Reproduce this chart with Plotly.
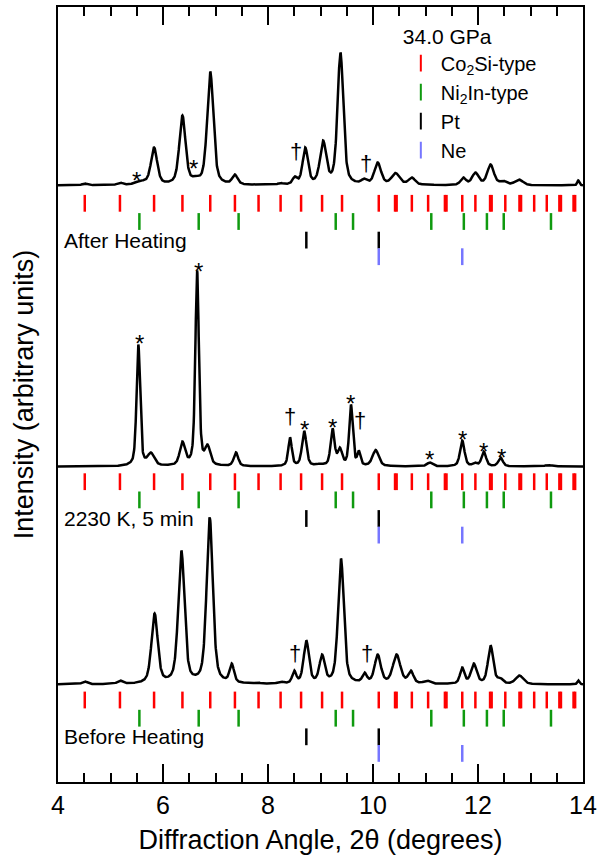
import numpy as np
import plotly.graph_objects as go

# 2-theta grid of the measured patterns (degrees)
two_theta = np.round(np.arange(4.0, 14.0001, 0.005), 4)

# ---- Peak tables: position (deg), height above background, FWHM (deg) ----
# Before heating
before_pos = [4.51, 5.18, 5.84, 6.35, 6.89, 7.31, 7.80, 8.24, 8.50, 8.73, 9.03, 9.39,
              9.84, 10.09, 10.45, 10.72, 11.03, 11.70, 11.92, 12.24, 12.42, 12.79, 13.91]
before_height = [3, 4, 71, 134, 167, 21, 2, 3, 14, 44, 30, 126,
                 12, 30, 30, 14, 4, 17, 21, 39, 7, 9, 4]
before_fwhm = [0.12, 0.12, 0.14, 0.14, 0.14, 0.10, 0.12, 0.12, 0.09, 0.12, 0.12, 0.13,
               0.10, 0.14, 0.17, 0.12, 0.15, 0.10, 0.13, 0.12, 0.12, 0.17, 0.05]

# 2230 K, 5 min
heated_pos = [5.53, 5.77, 6.37, 6.65, 6.85, 7.39, 8.42, 8.69, 8.99, 9.23, 9.37, 9.58,
              9.73, 10.05, 11.08, 11.70, 11.94, 12.11, 12.43, 13.34]
heated_height = [122, 14, 25, 196, 22, 14, 29, 35.5, 3, 38, 19, 62,
                 16, 16.5, 4, 26, 4, 15, 9, 1.5]
heated_fwhm = [0.08, 0.15, 0.12, 0.08, 0.12, 0.10, 0.08, 0.10, 0.15, 0.09, 0.10, 0.08,
               0.07, 0.14, 0.12, 0.10, 0.10, 0.10, 0.10, 0.15]

# After heating
after_pos = [4.51, 5.18, 5.58, 5.83, 6.37, 6.62, 6.90, 7.37, 7.82, 8.24, 8.51, 8.71,
             9.05, 9.38, 9.83, 10.09, 10.43, 10.74, 11.04, 11.72, 11.95, 12.24, 12.48,
             12.78, 13.91]
after_height = [2, 3, 5, 38, 70, 10, 114, 11, 1.5, 2.5, 9, 38,
                45, 133, 7, 23, 12.5, 8, 1.5, 8, 13, 21, 5,
                6, 5]
after_fwhm = [0.12, 0.12, 0.25, 0.14, 0.14, 0.15, 0.14, 0.12, 0.12, 0.12, 0.10, 0.12,
              0.14, 0.13, 0.12, 0.15, 0.18, 0.15, 0.15, 0.12, 0.15, 0.15, 0.15,
              0.18, 0.05]

# Background level of each stacked pattern
before_offset = 97.5
heated_offset = 315.5
after_offset = 596.5

# ---- Calculated reflection positions (deg) ----
co2si_type = [4.51, 5.18, 5.83, 6.37, 6.90, 7.37, 7.82, 8.24, 8.63, 9.03, 9.41, 10.11,
              10.42, 10.45, 10.74, 11.05, 11.37, 11.40, 11.70, 11.95, 12.23, 12.26,
              12.52, 12.79, 12.82, 13.07, 13.31, 13.55, 13.58, 13.82, 13.85]
ni2in_type = [5.55, 6.68, 7.44, 9.29, 9.62, 11.11, 11.73, 12.17, 12.49, 13.39]
pt_lines = [8.73, 10.11]
ne_lines = [10.11, 11.70]

# Peak annotations: (symbol, position, height above background)
before_marks = [("†", 8.52, 31.5), ("†", 9.88, 31)]
heated_marks = [("*", 5.56, 129), ("*", 6.67, 201.5), ("†", 8.41, 50.5), ("*", 8.69, 43),
                ("*", 9.22, 45), ("*", 9.57, 69), ("†", 9.76, 46.5), ("*", 11.08, 13),
                ("*", 11.70, 33), ("*", 12.11, 21.5), ("*", 12.45, 15)]
after_marks = [("*", 5.50, 11.5), ("*", 6.58, 23), ("†", 8.54, 34), ("†", 9.87, 22)]

ETA = 0.5


def pseudo_voigt(x, center, fwhm):
    u = ((np.asarray(x) - center) / fwhm) ** 2
    return ETA / (1 + 4 * u) + (1 - ETA) * np.exp(-4 * np.log(2) * u)


def pattern(pos, height, fwhm):
    pos = np.asarray(pos, float)
    fwhm = np.asarray(fwhm, float)
    # amplitudes chosen so the summed profile reaches each tabulated height
    m = np.array([[pseudo_voigt(p, c, w) for c, w in zip(pos, fwhm)] for p in pos])
    amp = np.clip(np.linalg.solve(m, np.asarray(height, float)), 0, None)
    return sum(a * pseudo_voigt(two_theta, c, w) for a, c, w in zip(amp, pos, fwhm))


fig = go.Figure()

for pos, h, w, off in [(before_pos, before_height, before_fwhm, before_offset),
                       (heated_pos, heated_height, heated_fwhm, heated_offset),
                       (after_pos, after_height, after_fwhm, after_offset)]:
    fig.add_trace(go.Scatter(x=two_theta, y=off + pattern(pos, h, w), mode="lines",
                             line=dict(color="black", width=2.5), showlegend=False,
                             hoverinfo="skip"))

# Reflection tick rows below each pattern
row_top = [82.0, 300.3, 578.7]
row_step = [0.0, 18.2, 36.8, 53.4]
phases = [("Co<sub>2</sub>Si-type", co2si_type, "#ff0000"),
          ("Ni<sub>2</sub>In-type", ni2in_type, "#0f9a0f"),
          ("Pt", pt_lines, "#000000"),
          ("Ne", ne_lines, "#7676ff")]
for k, (name, lines, color) in enumerate(phases):
    xs, ys = [], []
    for base in row_top:
        xs += lines
        ys += [base - row_step[k]] * len(lines)
    fig.add_trace(go.Scatter(x=xs, y=ys, mode="markers", name=name,
                             marker=dict(symbol="line-ns-open", size=12, color=color,
                                         line=dict(color=color, width=2.5)),
                             hoverinfo="skip"))

annotations = []
for marks, off in [(before_marks, before_offset), (heated_marks, heated_offset),
                   (after_marks, after_offset)]:
    for sym, x, h in marks:
        annotations.append(dict(x=x, y=off + h, text=sym, showarrow=False,
                                xanchor="center", yanchor="middle",
                                yshift=-6 if sym == "*" else 0,
                                font=dict(size=24 if sym == "*" else 22, color="black")))

for text, base in [("Before Heating", row_top[0]), ("2230 K, 5 min", row_top[1]),
                   ("After Heating", row_top[2])]:
    annotations.append(dict(x=4.08, y=base - row_step[2], text=text, showarrow=False,
                            xanchor="left", yanchor="middle",
                            font=dict(size=21, color="black")))

fig.update_layout(
    width=609, height=855,
    margin=dict(l=58, r=26, t=7, b=73, autoexpand=False),
    plot_bgcolor="white", paper_bgcolor="white",
    font=dict(family="Liberation Sans, Arial, sans-serif", color="black"),
    annotations=annotations,
    legend=dict(x=0.653, y=0.988, xanchor="left", yanchor="top",
                bgcolor="rgba(0,0,0,0)", font=dict(size=20), tracegroupgap=0,
                itemsizing="constant",
                title=dict(text="34.0 GPa", font=dict(size=21), side="top")),
    xaxis=dict(range=[4, 14], tickvals=[4, 6, 8, 10, 12, 14], ticks="inside",
               ticklen=18, tickwidth=2, tickcolor="black",
               minor=dict(dtick=0.5, ticks="inside", ticklen=9, tickwidth=2,
                          tickcolor="black"),
               showline=True, linewidth=2, linecolor="black", mirror="allticks",
               showgrid=False, zeroline=False, tickfont=dict(size=25),
               title=dict(text="Diffraction Angle, 2θ (degrees)", font=dict(size=27))),
    yaxis=dict(range=[0, 775], showticklabels=False, ticks="", showline=True,
               linewidth=2, linecolor="black", mirror=True, showgrid=False,
               zeroline=False,
               title=dict(text="Intensity (arbitrary units)", font=dict(size=27))),
)

fig.write_html("out.html")
